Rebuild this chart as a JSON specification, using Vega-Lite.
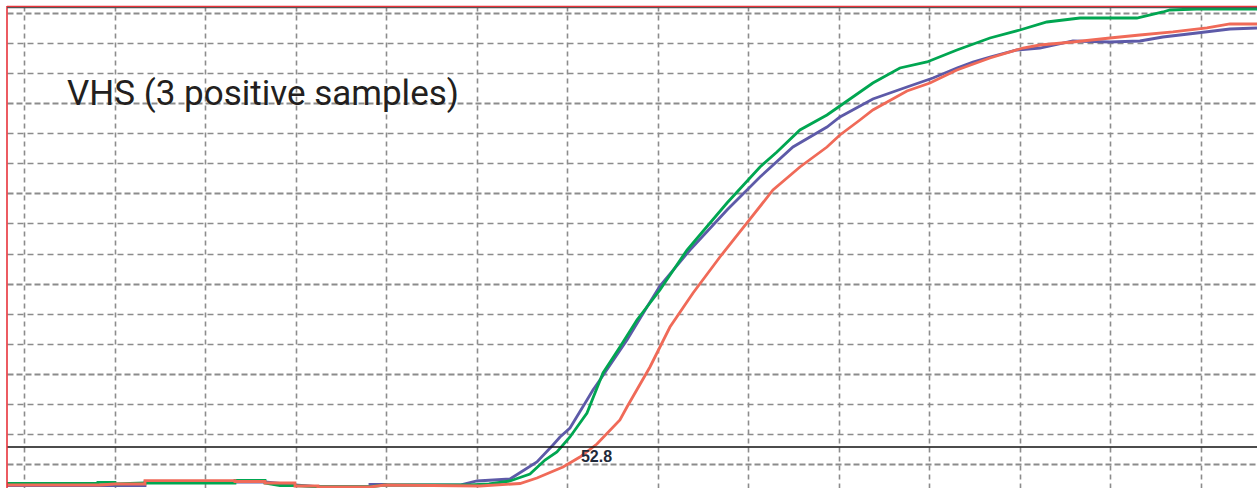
{
  "$schema": "https://vega.github.io/schema/vega-lite/v6.json",
  "width": 1250,
  "height": 482,
  "padding": {"left": 7, "top": 6, "right": 0, "bottom": 0},
  "autosize": {"type": "none"},
  "background": "white",
  "config": {
    "view": {"stroke": null},
    "axis": {"grid": true, "labels": false, "ticks": false, "domain": false, "gridColor": "#8c8c8c"},
    "axisX": {"tickCount": 14, "gridDash": [5, 4], "gridWidth": 1.6},
    "axisY": {"tickCount": 16,
      "gridDash": {"condition": {"test": "datum.value % 30 === 0", "value": [6, 3]}, "value": [6, 4]},
      "gridWidth": {"condition": {"test": "datum.value % 30 === 0", "value": 2.2}, "value": 1.3}}
  },
  "layer": [
    {
      "data": {"values": [
        {"s": "blue", "x": -1.91, "y": -7.22}, {"s": "blue", "x": 13.34, "y": -7.22}, {"s": "blue", "x": 13.34, "y": -5.99}, {"s": "blue", "x": 26.6, "y": -5.99},
        {"s": "blue", "x": 29.91, "y": -6.98}, {"s": "blue", "x": 32.45, "y": -7.55}, {"s": "blue", "x": 38.2, "y": -7.55}, {"s": "blue", "x": 38.2, "y": -6.75},
        {"s": "blue", "x": 39.86, "y": -6.75}, {"s": "blue", "x": 39.86, "y": -6.98}, {"s": "blue", "x": 48.14, "y": -6.98}, {"s": "blue", "x": 50.02, "y": -5.65},
        {"s": "blue", "x": 53.67, "y": -4.99}, {"s": "blue", "x": 56.65, "y": 0.67}, {"s": "blue", "x": 58.42, "y": 6.32}, {"s": "blue", "x": 59.2, "y": 8.98},
        {"s": "blue", "x": 60.3, "y": 11.97}, {"s": "blue", "x": 62.18, "y": 21.28}, {"s": "blue", "x": 62.84, "y": 24.61}, {"s": "blue", "x": 63.61, "y": 27.93},
        {"s": "blue", "x": 66.6, "y": 41.24}, {"s": "blue", "x": 68.81, "y": 52.21}, {"s": "blue", "x": 70.24, "y": 59.2}, {"s": "blue", "x": 73.56, "y": 71.17},
        {"s": "blue", "x": 77.65, "y": 84.47}, {"s": "blue", "x": 81.3, "y": 95.44}, {"s": "blue", "x": 84.94, "y": 105.42}, {"s": "blue", "x": 88.7, "y": 112.07},
        {"s": "blue", "x": 90.13, "y": 115.4}, {"s": "blue", "x": 93.77, "y": 121.38}, {"s": "blue", "x": 97.54, "y": 125.37}, {"s": "blue", "x": 100.41, "y": 128.37},
        {"s": "blue", "x": 103.06, "y": 131.69}, {"s": "blue", "x": 104.83, "y": 133.69}, {"s": "blue", "x": 106.71, "y": 135.35}, {"s": "blue", "x": 109.69, "y": 137.68},
        {"s": "blue", "x": 112.23, "y": 138.34}, {"s": "blue", "x": 115.88, "y": 140.67}, {"s": "blue", "x": 119.97, "y": 140.34}, {"s": "blue", "x": 123.28, "y": 140.67},
        {"s": "blue", "x": 125.82, "y": 142.0}, {"s": "blue", "x": 129.58, "y": 143.33}, {"s": "blue", "x": 133.23, "y": 144.66}, {"s": "blue", "x": 136.22, "y": 145.0},

        {"s": "green", "x": -1.91, "y": -6.42}, {"s": "green", "x": 8.14, "y": -6.42}, {"s": "green", "x": 8.14, "y": -6.09}, {"s": "green", "x": 10.02, "y": -6.09},
        {"s": "green", "x": 10.02, "y": -6.65}, {"s": "green", "x": 13.34, "y": -6.32}, {"s": "green", "x": 23.28, "y": -6.32}, {"s": "green", "x": 23.28, "y": -5.42},
        {"s": "green", "x": 26.6, "y": -5.42}, {"s": "green", "x": 26.6, "y": -6.32}, {"s": "green", "x": 28.26, "y": -7.22}, {"s": "green", "x": 29.91, "y": -7.22},
        {"s": "green", "x": 32.45, "y": -7.55}, {"s": "green", "x": 38.2, "y": -7.55}, {"s": "green", "x": 39.86, "y": -6.98}, {"s": "green", "x": 49.25, "y": -6.98},
        {"s": "green", "x": 51.35, "y": -6.65}, {"s": "green", "x": 53.67, "y": -5.65}, {"s": "green", "x": 55.88, "y": -3.33}, {"s": "green", "x": 57.54, "y": 1.33},
        {"s": "green", "x": 58.86, "y": 3.99}, {"s": "green", "x": 60.3, "y": 8.98}, {"s": "green", "x": 62.18, "y": 16.96}, {"s": "green", "x": 63.95, "y": 30.26},
        {"s": "green", "x": 65.82, "y": 38.9}, {"s": "green", "x": 67.7, "y": 47.89}, {"s": "green", "x": 70.24, "y": 57.87}, {"s": "green", "x": 73.23, "y": 71.17},
        {"s": "green", "x": 73.9, "y": 73.49}, {"s": "green", "x": 77.65, "y": 86.8}, {"s": "green", "x": 81.3, "y": 98.77}, {"s": "green", "x": 83.17, "y": 103.76},
        {"s": "green", "x": 85.71, "y": 111.07}, {"s": "green", "x": 88.7, "y": 116.06}, {"s": "green", "x": 90.13, "y": 119.06}, {"s": "green", "x": 93.77, "y": 126.71},
        {"s": "green", "x": 96.76, "y": 131.69}, {"s": "green", "x": 99.75, "y": 133.69}, {"s": "green", "x": 103.06, "y": 137.68}, {"s": "green", "x": 106.71, "y": 141.67},
        {"s": "green", "x": 110.02, "y": 144.33}, {"s": "green", "x": 113.0, "y": 146.99}, {"s": "green", "x": 116.65, "y": 148.32}, {"s": "green", "x": 122.95, "y": 148.32},
        {"s": "green", "x": 125.82, "y": 150.32}, {"s": "green", "x": 126.6, "y": 150.98}, {"s": "green", "x": 129.58, "y": 151.31}, {"s": "green", "x": 136.22, "y": 151.31},

        {"s": "red", "x": -1.91, "y": -6.98}, {"s": "red", "x": 8.36, "y": -6.98}, {"s": "red", "x": 10.02, "y": -6.65}, {"s": "red", "x": 13.34, "y": -6.65},
        {"s": "red", "x": 13.34, "y": -5.55}, {"s": "red", "x": 23.28, "y": -5.55}, {"s": "red", "x": 23.28, "y": -5.82}, {"s": "red", "x": 26.6, "y": -5.82},
        {"s": "red", "x": 26.6, "y": -6.32}, {"s": "red", "x": 29.91, "y": -6.32}, {"s": "red", "x": 29.91, "y": -7.32}, {"s": "red", "x": 32.45, "y": -7.32},
        {"s": "red", "x": 32.45, "y": -7.65}, {"s": "red", "x": 38.2, "y": -7.65}, {"s": "red", "x": 39.86, "y": -6.98}, {"s": "red", "x": 50.35, "y": -7.32},
        {"s": "red", "x": 54.78, "y": -6.48}, {"s": "red", "x": 56.65, "y": -4.66}, {"s": "red", "x": 59.53, "y": -1.0}, {"s": "red", "x": 61.4, "y": 2.33},
        {"s": "red", "x": 63.28, "y": 6.65}, {"s": "red", "x": 65.82, "y": 14.63}, {"s": "red", "x": 66.6, "y": 18.96}, {"s": "red", "x": 69.14, "y": 32.26},
        {"s": "red", "x": 71.35, "y": 45.56}, {"s": "red", "x": 73.9, "y": 56.87}, {"s": "red", "x": 76.87, "y": 68.84}, {"s": "red", "x": 79.86, "y": 80.15},
        {"s": "red", "x": 82.73, "y": 91.12}, {"s": "red", "x": 85.71, "y": 98.77}, {"s": "red", "x": 88.7, "y": 105.42}, {"s": "red", "x": 90.13, "y": 109.41},
        {"s": "red", "x": 92.34, "y": 114.4}, {"s": "red", "x": 93.77, "y": 117.73}, {"s": "red", "x": 97.54, "y": 124.04}, {"s": "red", "x": 100.08, "y": 126.71},
        {"s": "red", "x": 103.06, "y": 131.03}, {"s": "red", "x": 106.71, "y": 135.02}, {"s": "red", "x": 110.35, "y": 138.34}, {"s": "red", "x": 112.23, "y": 139.34},
        {"s": "red", "x": 115.88, "y": 140.34}, {"s": "red", "x": 119.97, "y": 141.67}, {"s": "red", "x": 123.28, "y": 142.67}, {"s": "red", "x": 126.93, "y": 143.67},
        {"s": "red", "x": 130.69, "y": 145.0}, {"s": "red", "x": 133.23, "y": 146.33}, {"s": "red", "x": 136.22, "y": 146.33}
      ]},
      "mark": {"type": "line", "strokeWidth": 2.8, "interpolate": "linear"},
      "encoding": {
        "x": {"field": "x", "type": "quantitative", "title": null,
          "scale": {"domain": [-1.91, 136.22], "nice": false, "zero": false}},
        "y": {"field": "y", "type": "quantitative", "title": null,
          "scale": {"domain": [-7.98, 152.31], "nice": false, "zero": false}},
        "color": {"field": "s", "type": "nominal", "legend": null,
          "scale": {"domain": ["blue", "green", "red"], "range": ["#5d5aa8", "#00a651", "#f06a58"]}},
        "order": {"field": "x", "type": "quantitative"}
      }
    },
    {
      "data": {"values": [{}]},
      "mark": {"type": "rule", "color": "#111111", "strokeWidth": 1.5},
      "encoding": {"y": {"datum": 5.65, "type": "quantitative", "title": null}}
    },
    {
      "data": {"values": [{}]},
      "mark": {"type": "rule", "color": "#e8333a", "strokeWidth": 1.6},
      "encoding": {"x": {"datum": -1.91, "type": "quantitative", "title": null}}
    },
    {
      "data": {"values": [{}]},
      "mark": {"type": "rule", "color": "#555555", "strokeWidth": 1.2},
      "encoding": {"y": {"datum": 151.75, "type": "quantitative", "title": null}}
    },
    {
      "data": {"values": [{}]},
      "mark": {"type": "rule", "color": "#e8333a", "strokeWidth": 1.3},
      "encoding": {"y": {"datum": 152.2, "type": "quantitative", "title": null}}
    },
    {
      "data": {"values": [{"label": "52.8"}]},
      "mark": {"type": "text", "font": "Liberation Sans", "fontSize": 16, "fontWeight": "bold", "color": "#1f2a3a", "align": "center", "baseline": "middle"},
      "encoding": {
        "x": {"datum": 63.23, "type": "quantitative", "title": null},
        "y": {"datum": 2.33, "type": "quantitative", "title": null},
        "text": {"field": "label"}
      }
    },
    {
      "data": {"values": [{"label": "VHS (3 positive samples)"}]},
      "mark": {"type": "text", "font": "Roboto", "fontSize": 35, "color": "#231f20", "align": "left", "baseline": "alphabetic"},
      "encoding": {
        "x": {"datum": 4.72, "type": "quantitative", "title": null},
        "y": {"datum": 119.4, "type": "quantitative", "title": null},
        "text": {"field": "label"}
      }
    }
  ]
}
